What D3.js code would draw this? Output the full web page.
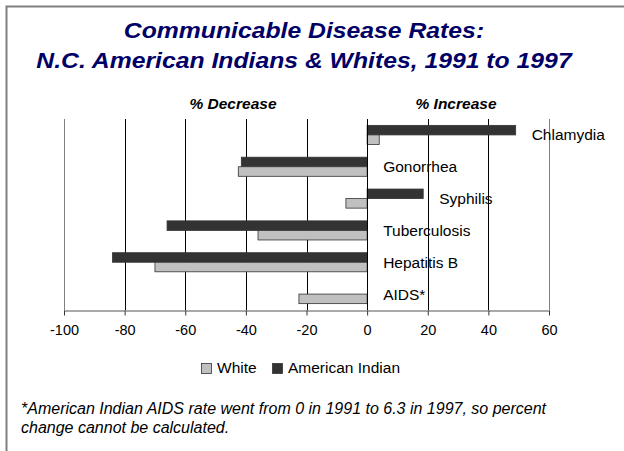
<!DOCTYPE html>
<html>
<head>
<meta charset="utf-8">
<script src="https://cdn.jsdelivr.net/npm/d3@7"></script>
<style>
html,body{margin:0;padding:0;background:#fff;}
svg{display:block;font-family:"Liberation Sans",Arial,sans-serif;}
</style>
</head>
<body>
<svg id="chart" width="624" height="451"></svg>
<script>
// Data
const categories = ["Chlamydia", "Gonorrhea", "Syphilis", "Tuberculosis", "Hepatitis B", "AIDS*"];
const americanIndian = [49, -41.5, 18.5, -66, -84, null];
const white = [4, -42.5, -7, -36, -70, -22.5];
const seriesNames = ["American Indian", "White"];
const xTicks = [-100, -80, -60, -40, -20, 0, 20, 40, 60];
const titleLines = ["Communicable Disease Rates:", "N.C. American Indians & Whites, 1991 to 1997"];
const footnoteLines = ["*American Indian AIDS rate went from 0 in 1991 to 6.3 in 1997, so percent", "change cannot be calculated."];

const svg = d3.select("#chart");
const colors = {"American Indian": "#333333", "White": "#c0c0c0"};

// frame
svg.append("path").attr("d", "M6.5,451 V6.5 H624").attr("fill", "none").attr("stroke", "#808080").attr("stroke-width", 2);

// helper: stretch text horizontally around an anchor
function stretch(sel, sx, ax) {
  sel.attr("transform", `translate(${ax},0) scale(${sx},1) translate(${-ax},0)`);
}

// title
const tg = svg.append("g");
tg.selectAll("text").data(titleLines).join("text")
  .attr("x", 304).attr("y", (d, i) => 38 + i * 30)
  .attr("text-anchor", "middle")
  .attr("font-size", 22).attr("font-weight", "bold").attr("font-style", "italic")
  .attr("fill", "#000066").text(d => d);
stretch(tg, 1.125, 304);

const x = d3.scaleLinear().domain([-100, 60]).range([64, 549]);
const y = d3.scaleBand().domain(categories).range([119, 310]).paddingInner(0.4).paddingOuter(0.2);
const ySub = d3.scaleBand().domain(seriesNames).range([0, y.bandwidth()]);

// section headers
svg.append("text").attr("x", 233).attr("y", 109).attr("text-anchor", "middle")
  .attr("font-size", 15.5).attr("font-weight", "bold").attr("font-style", "italic").text("% Decrease");
svg.append("text").attr("x", 456).attr("y", 109).attr("text-anchor", "middle")
  .attr("font-size", 15.5).attr("font-weight", "bold").attr("font-style", "italic").text("% Increase");

// gridlines
svg.append("g").selectAll("line").data(xTicks).join("line")
  .attr("x1", d => Math.round(x(d)) + 0.5).attr("x2", d => Math.round(x(d)) + 0.5)
  .attr("y1", 119).attr("y2", 310)
  .attr("stroke", d => (d === -100 || d === 60) ? "#808080" : "#000")
  .attr("stroke-width", 1);

// bars
const rows = categories.map((c, i) => ({cat: c, vals: [
  {s: "American Indian", v: americanIndian[i]},
  {s: "White", v: white[i]}
]}));
const gRow = svg.append("g").selectAll("g").data(rows).join("g")
  .attr("transform", d => `translate(0,${y(d.cat)})`);
gRow.selectAll("rect").data(d => d.vals.filter(e => e.v !== null)).join("rect")
  .attr("x", d => x(Math.min(0, d.v)))
  .attr("y", d => ySub(d.s))
  .attr("width", d => Math.abs(x(d.v) - x(0)))
  .attr("height", ySub.bandwidth())
  .attr("fill", d => colors[d.s])
  .attr("stroke", "#333").attr("stroke-width", 0.8);

// zero line (category axis)
svg.append("line").attr("x1", Math.round(x(0)) + 0.5).attr("x2", Math.round(x(0)) + 0.5)
  .attr("y1", 119).attr("y2", 310).attr("stroke", "#000");

// x axis
const axis = svg.append("g").attr("transform", "translate(0,310.5)")
  .call(d3.axisBottom(x).tickValues(xTicks).tickFormat(d => String(d)).tickSize(5).tickSizeOuter(0).tickPadding(9));
axis.select(".domain").attr("stroke", "#555");
axis.selectAll(".tick line").attr("stroke", "#333");
axis.selectAll(".tick text").attr("font-size", 14.5).attr("font-family", "Liberation Sans, Arial, sans-serif").attr("fill", "#000");

// category labels
svg.append("g").selectAll("text").data(rows).join("text")
  .attr("x", d => x(Math.max(0, ...d.vals.filter(e => e.v !== null).map(e => e.v))) + 16)
  .attr("y", d => y(d.cat) + y.bandwidth() / 2)
  .attr("dy", "0.35em")
  .attr("font-size", 15.5).attr("fill", "#000").text(d => d.cat);

// legend
const legendItems = ["White", "American Indian"];
const lg = svg.append("g").attr("transform", "translate(201,363)");
const lx = [0, 71];
legendItems.forEach((name, i) => {
  lg.append("rect").attr("x", lx[i] + 0.5).attr("y", 0.5).attr("width", 10).attr("height", 10)
    .attr("fill", colors[name]).attr("stroke", "#333").attr("stroke-width", 0.8);
  lg.append("text").attr("x", lx[i] + 16).attr("y", 9.5).attr("font-size", 15.5).text(name);
});

// footnote
svg.append("g").selectAll("text").data(footnoteLines).join("text")
  .attr("x", 21).attr("y", (d, i) => 414 + i * 19)
  .attr("font-size", 16).attr("font-style", "italic").attr("fill", "#000").text(d => d);
</script>
</body>
</html>
